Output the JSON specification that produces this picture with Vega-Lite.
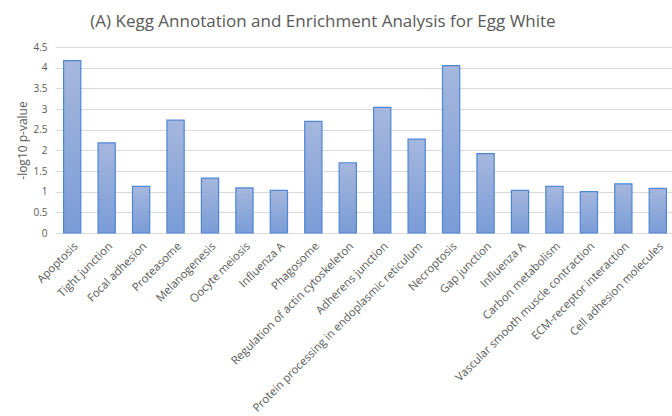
{
  "$schema": "https://vega.github.io/schema/vega-lite/v6.json",
  "width": 620,
  "height": 186,
  "autosize": {"type": "none"},
  "padding": {"left": 55, "top": 47, "right": 0, "bottom": 183},
  "background": "white",
  "title": {
    "text": "(A) Kegg Annotation and Enrichment Analysis for Egg White",
    "font": "Open Sans",
    "fontSize": 17,
    "fontWeight": "normal",
    "color": "#595959",
    "anchor": "middle",
    "dx": -42,
    "offset": 11
  },
  "data": {
    "values": [
      {"pathway": "Apoptosis", "value": 4.17},
      {"pathway": "Tight junction", "value": 2.18},
      {"pathway": "Focal adhesion", "value": 1.13},
      {"pathway": "Proteasome", "value": 2.73},
      {"pathway": "Melanogenesis", "value": 1.33},
      {"pathway": "Oocyte meiosis", "value": 1.09},
      {"pathway": "Influenza A", "value": 1.03},
      {"pathway": "Phagosome", "value": 2.70},
      {"pathway": "Regulation of actin cytoskeleton", "value": 1.70},
      {"pathway": "Adherens junction", "value": 3.04},
      {"pathway": "Protein processing in endoplasmic reticulum", "value": 2.27},
      {"pathway": "Necroptosis", "value": 4.05},
      {"pathway": "Gap junction", "value": 1.92},
      {"pathway": "Influenza A ", "value": 1.03},
      {"pathway": "Carbon metabolism", "value": 1.13},
      {"pathway": "Vascular smooth muscle contraction", "value": 1.00},
      {"pathway": "ECM-receptor interaction", "value": 1.19},
      {"pathway": "Cell adhesion molecules", "value": 1.08}
    ]
  },
  "mark": {
    "type": "bar",
    "fill": {
      "gradient": "linear",
      "x1": 0, "y1": 0, "x2": 0, "y2": 1,
      "stops": [
        {"offset": 0, "color": "#a5b7dd"},
        {"offset": 1, "color": "#7a9cd7"}
      ]
    },
    "stroke": "#4f86d6",
    "strokeWidth": 1.2
  },
  "encoding": {
    "x": {
      "field": "pathway",
      "type": "nominal",
      "sort": null,
      "scale": {"paddingInner": 0.5, "paddingOuter": 0.25},
      "axis": {
        "title": null,
        "labelAngle": -45,
        "labelFont": "Open Sans",
        "labelFontSize": 11.3,
        "labelColor": "#595959",
        "ticks": false,
        "domainColor": "#d9d9d9",
        "labelPadding": 7,
        "labelLimit": 300
      }
    },
    "y": {
      "field": "value",
      "type": "quantitative",
      "scale": {"domain": [0, 4.5], "nice": false},
      "axis": {
        "title": "-log10 p-value",
        "values": [0, 0.5, 1, 1.5, 2, 2.5, 3, 3.5, 4, 4.5],
        "labelExpr": "datum.value",
        "titleFont": "Open Sans",
        "titleFontSize": 12,
        "titleFontWeight": "normal",
        "titleColor": "#595959",
        "titleX": -33,
        "titleY": 93,
        "titleAngle": -90,
        "titleAlign": "center",
        "titleBaseline": "middle",
        "labelFont": "Open Sans",
        "labelFontSize": 10,
        "labelColor": "#595959",
        "labelPadding": 8,
        "ticks": false,
        "domain": false,
        "gridColor": "#d9d9d9",
        "gridWidth": 1
      }
    }
  },
  "config": {"view": {"stroke": null}}
}
